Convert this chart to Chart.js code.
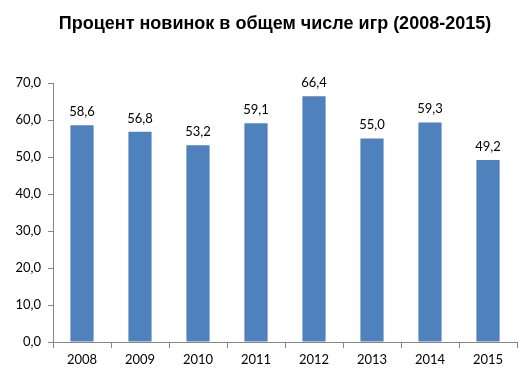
<!DOCTYPE html>
<html>
<head>
<meta charset="utf-8">
<script src="https://cdn.jsdelivr.net/npm/chart.js@4"></script>
<style>
  html, body { margin: 0; padding: 0; background: #fff; }
  #wrap { width: 532px; height: 374px; }
</style>
</head>
<body>
<div id="wrap"><canvas id="chart"></canvas></div>
<script>
// data
let years = ['2008', '2009', '2010', '2011', '2012', '2013', '2014', '2015'];
let newShare = [58.6, 56.8, 53.2, 59.1, 66.4, 55.0, 59.3, 49.2];
let yTicks = [0, 10, 20, 30, 40, 50, 60, 70];
let titleText = 'Процент новинок в общем числе игр (2008-2015)';

function fmt(v) {
    return v.toFixed(1).replace('.', ',');
}

// labels over bars + title (the built-in title can't be shifted off centre)
let barLabels = {
    id: 'barLabels',
    afterDatasetsDraw(chart) {
        let ctx = chart.ctx;
        let meta = chart.getDatasetMeta(0);
        ctx.save();
        ctx.font = '13px Lato';
        ctx.fillStyle = '#000';
        ctx.textAlign = 'center';
        ctx.textBaseline = 'bottom';
        meta.data.forEach((bar, i) => {
            ctx.fillText(fmt(newShare[i]), bar.x, bar.y - 7);
        });
        ctx.font = 'bold 18px "Liberation Sans"';
        ctx.textBaseline = 'middle';
        ctx.fillText(titleText, chart.width / 2 + 9, 24);
        ctx.restore();
    }
};

let ctx = document.getElementById('chart');
let chart = new Chart(ctx, {
    type: 'bar',
    data: {
        labels: years,
        datasets: [{
            data: newShare,
            backgroundColor: '#4F81BD',
            barPercentage: 0.4,
            categoryPercentage: 1.0
        }]
    },
    options: {
        responsive: true,
        maintainAspectRatio: false,
        animation: false,
        layout: { padding: { left: 0, right: 15, top: 83, bottom: 0 } },
        plugins: {
            legend: { display: false },
            tooltip: { enabled: false },
            title: { display: false }
        },
        scales: {
            x: {
                grid: { display: true, drawOnChartArea: false, offset: true, color: '#868686', tickLength: 6 },
                border: { color: '#868686' },
                ticks: { color: '#000', font: { family: 'Lato', size: 13 }, padding: 4 },
                afterFit(scale) { scale.height = 32; }
            },
            y: {
                min: 0,
                max: 70,
                afterBuildTicks(scale) { scale.ticks = yTicks.map(v => ({ value: v })); },
                grid: { display: true, drawOnChartArea: false, color: '#868686', tickLength: 5 },
                border: { color: '#868686' },
                ticks: {
                    color: '#000',
                    font: { family: 'Lato', size: 13 },
                    padding: 7,
                    callback: v => fmt(v)
                },
                afterFit(scale) { scale.width = 53; }
            }
        }
    },
    plugins: [barLabels]
});
</script>
</body>
</html>
